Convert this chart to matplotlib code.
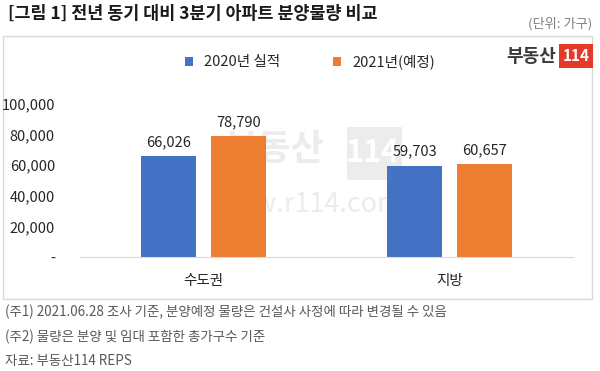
import matplotlib
matplotlib.use("Agg")
import matplotlib.pyplot as plt
from matplotlib.patches import Rectangle
from matplotlib.ticker import FuncFormatter
import numpy as np

plt.rcParams['font.family'] = ['Noto Sans CJK KR', 'DejaVu Sans']

# -----------------------------------------------------
title    = "[그림 1] 전년 동기 대비 3분기 아파트 분양물량 비교"
unit     = "(단위: 가구)"
regions  = ["수도권", "지방"]
s_names  = ["2020년 실적", "2021년(예정)"]
y2020    = [66026, 59703]
y2021    = [78790, 60657]
yticks   = [0, 20000, 40000, 60000, 80000, 100000]
notes    = ["(주1) 2021.06.28 조사 기준, 분양예정 물량은 건설사 사정에 따라 변경될 수 있음",
            "(주2) 물량은 분양 및 임대 포함한 총가구수 기준",
            "자료: 부동산114 REPS"]
# -----------------------------------------------------

W, H = 600, 371
fig = plt.figure(figsize=(6.0, 3.71), dpi=100)

def fx(px): return px/W
def fy(py): return 1 - py/H

# chart frame
fig.patches.append(Rectangle((fx(3), fy(299)), fx(592)-fx(3), fy(36)-fy(299),
                             transform=fig.transFigure, fill=False,
                             edgecolor="#D9D9D9", lw=1.0, zorder=-2))

# watermark (behind the axes)
wm = "#ECECEC"
fig.text(fx(274), fy(150), "부동산", fontsize=26, fontweight="bold",
         color=wm, ha="center", va="center", zorder=-1)
fig.patches.append(Rectangle((fx(347), fy(180)), fx(402)-fx(347), fy(127)-fy(180),
                             transform=fig.transFigure, fc=wm, ec="none", zorder=-1))
fig.text(fx(373), fy(153), "114", fontsize=22, fontweight="bold", color="white",
         ha="center", va="center", zorder=-0.5)
fig.text(fx(307), fy(205), "www.r114.com", fontsize=19.5, color=wm,
         ha="center", va="center", zorder=-1)

ax = fig.add_axes([fx(80), fy(257), fx(573)-fx(80), fy(73.4)-fy(257)])
ax.patch.set_alpha(0)

x = np.arange(len(regions))
bw = 0.223
off = 0.142
b1 = ax.bar(x - off, y2020, bw, color="#4472C4", label=s_names[0], zorder=2)
b2 = ax.bar(x + off, y2021, bw, color="#ED7D31", label=s_names[1], zorder=2)

for bars in (b1, b2):
    for r in bars:
        ax.text(r.get_x() + r.get_width()/2, r.get_height() + 4500,
                "{:,}".format(int(r.get_height())), ha="center", va="bottom",
                fontsize=10.5, color="#262626")

ax.set_xlim(-0.5, 1.5)
ax.set_ylim(0, 120000)
ax.set_yticks(yticks)
ax.yaxis.set_major_formatter(FuncFormatter(lambda v, p: "-" if v == 0 else "{:,}".format(int(v))))
ax.set_xticks(x)
ax.set_xticklabels(regions)
ax.tick_params(axis="y", length=0, pad=18, labelsize=10.5, labelcolor="#262626")
ax.tick_params(axis="x", length=0, pad=12, labelsize=10.5, labelcolor="#262626")
for s in ["top", "right", "left"]:
    ax.spines[s].set_visible(False)
ax.spines["bottom"].set_color("#D9D9D9")

# legend
fig.legend(handles=[b1, b2], labels=s_names, loc="center", ncol=2,
           bbox_to_anchor=(fx(310), fy(62)), frameon=False, fontsize=10.5,
           handlelength=0.55, handleheight=0.55, handletextpad=0.8,
           columnspacing=3.6, labelcolor="#262626")

# logo
fig.text(fx(531), fy(56), "부동산", fontsize=13, fontweight="bold",
         color="#3A3A3A", ha="center", va="center")
fig.text(fx(576), fy(56), "114", fontsize=11, fontweight="bold", color="white",
         ha="center", va="center",
         bbox=dict(boxstyle="square,pad=0.25", fc="#E53A2A", ec="none"))

# title / unit
fig.text(fx(8), fy(14), title, fontsize=12.5, fontweight="bold",
         color="#1A1A1A", ha="left", va="center")
fig.text(fx(592), fy(24), unit, fontsize=9.5, color="#7F7F7F",
         ha="right", va="center")

# notes
for i, n in enumerate(notes):
    fig.text(fx(5), fy(312 + 24.5*i), n, fontsize=9.7, color="#595959",
             ha="left", va="center")

fig.savefig("out.png", dpi=100)
